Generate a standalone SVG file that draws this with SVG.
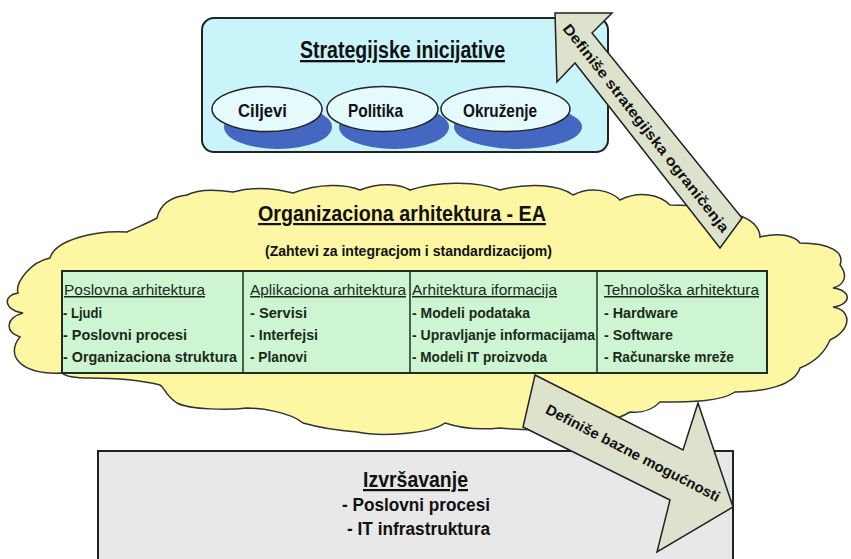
<svg xmlns="http://www.w3.org/2000/svg" width="851" height="559" viewBox="0 0 851 559">
<style>
text{font-family:"Liberation Sans",Arial,sans-serif;fill:#111;}
.b{font-weight:bold;}
.u{text-decoration:underline;}
.hd{font-size:15px;text-decoration:underline;fill:#1a2a1a;}
.it{font-size:15px;font-weight:bold;fill:#1a2a1a;}
.ell{fill:#e4fafc;stroke:#222;stroke-width:1.5;}
.sh{fill:#4468c2;}
.arr{fill:#dde2cc;stroke:#222;stroke-width:1.5;stroke-linejoin:miter;}
.et{font-size:19px;font-weight:bold;}
</style>
<rect width="851" height="559" fill="#fff"/>
<g id="ea-cloud">
<path d="M 50,258 C 55,240 95,230 127,232 C 140,226 150,222 157,218 C 160,205 170,197 187,195 C 200,188 220,190 233,192 C 260,185 280,190 293,193 C 320,183 345,184 360,190 C 380,182 400,184 410,190 C 440,180 480,182 500,190 C 530,182 560,185 573,195 C 590,186 610,190 620,200 C 640,190 660,195 670,205 C 700,205 730,210 743,217 C 755,222 760,230 760,237 C 780,232 795,236 800,243 C 830,243 845,252 840,265 C 848,275 845,285 833,288 C 852,290 852,305 833,307 C 852,310 852,330 830,340 C 825,352 815,362 800,368 C 795,385 765,392 735,392 C 720,402 690,402 660,402 C 650,412 640,413 630,412 C 600,430 540,432 500,428 C 480,430 460,428 445,423 C 430,434 380,437 357,432 C 330,430 310,425 303,423 C 290,412 260,408 247,408 C 230,410 190,410 177,403 C 165,395 165,388 160,385 C 140,380 110,378 90,378 C 75,378 65,376 62,373 C 20,375 5,355 20,337 C 5,332 5,318 23,313 C 3,310 3,295 18,293 C 15,283 30,262 50,258 Z" fill="#fdf6a3" stroke="#333" stroke-width="1.5"/>
<text x="258" y="221" class="b u" font-size="22" textLength="288" lengthAdjust="spacingAndGlyphs">Organizaciona arhitektura - EA</text>
<text x="265" y="256" class="b" font-size="14" textLength="287" lengthAdjust="spacingAndGlyphs">(Zahtevi za integracjom i standardizacijom)</text>
</g>
<g id="ea-table">
<rect x="62" y="271" width="705" height="102" fill="#cdf5d2" stroke="#1f2f1f" stroke-width="2"/>
<line x1="243" y1="271" x2="243" y2="373" stroke="#1f2f1f" stroke-width="1.5"/>
<line x1="410" y1="271" x2="410" y2="373" stroke="#1f2f1f" stroke-width="1.5"/>
<line x1="597" y1="271" x2="597" y2="373" stroke="#1f2f1f" stroke-width="1.5"/>
</g>
<g id="poslovna">
<text x="64" y="295" class="hd" textLength="141" lengthAdjust="spacingAndGlyphs">Poslovna arhitektura</text>
<text x="63" y="318" class="it" textLength="39" lengthAdjust="spacingAndGlyphs">- Ljudi</text>
<text x="63" y="340" class="it" textLength="124" lengthAdjust="spacingAndGlyphs">- Poslovni procesi</text>
<text x="63" y="362" class="it" textLength="174" lengthAdjust="spacingAndGlyphs">- Organizaciona struktura</text>
</g>
<g id="aplikaciona">
<text x="250" y="295" class="hd" textLength="156" lengthAdjust="spacingAndGlyphs">Aplikaciona arhitektura</text>
<text x="250" y="318" class="it" textLength="57" lengthAdjust="spacingAndGlyphs">- Servisi</text>
<text x="250" y="340" class="it" textLength="68" lengthAdjust="spacingAndGlyphs">- Interfejsi</text>
<text x="250" y="362" class="it" textLength="57" lengthAdjust="spacingAndGlyphs">- Planovi</text>
</g>
<g id="informacije">
<text x="412" y="295" class="hd" textLength="145" lengthAdjust="spacingAndGlyphs">Arhitektura iformacija</text>
<text x="412" y="318" class="it" textLength="118" lengthAdjust="spacingAndGlyphs">- Modeli podataka</text>
<text x="412" y="340" class="it" textLength="183" lengthAdjust="spacingAndGlyphs">- Upravljanje informacijama</text>
<text x="412" y="362" class="it" textLength="135" lengthAdjust="spacingAndGlyphs">- Modeli IT proizvoda</text>
</g>
<g id="tehnoloska">
<text x="604" y="295" class="hd" textLength="155" lengthAdjust="spacingAndGlyphs">Tehnološka arhitektura</text>
<text x="604" y="318" class="it" textLength="74" lengthAdjust="spacingAndGlyphs">- Hardware</text>
<text x="604" y="340" class="it" textLength="69" lengthAdjust="spacingAndGlyphs">- Software</text>
<text x="604" y="362" class="it" textLength="130" lengthAdjust="spacingAndGlyphs">- Računarske mreže</text>
</g>
<g id="strategijske">
<rect x="202" y="18" width="406" height="134" rx="12" ry="12" fill="#c9f4fa" stroke="#222" stroke-width="2"/>
<text x="300" y="58" class="b u" font-size="23" textLength="205" lengthAdjust="spacingAndGlyphs">Strategijske inicijative</text>
</g>
<g id="ciljevi">
<ellipse cx="278" cy="127" rx="54" ry="22" class="sh"/>
<ellipse cx="267" cy="109" rx="55" ry="22.5" class="ell"/>
<text x="238" y="117" class="et" textLength="49" lengthAdjust="spacingAndGlyphs">Ciljevi</text>
</g>
<g id="politika">
<ellipse cx="394" cy="127" rx="55" ry="22" class="sh"/>
<ellipse cx="382.5" cy="109" rx="55.5" ry="22.5" class="ell"/>
<text x="348" y="117" class="et" textLength="55" lengthAdjust="spacingAndGlyphs">Politika</text>
</g>
<g id="okruzenje">
<ellipse cx="518" cy="127" rx="64" ry="22" class="sh"/>
<ellipse cx="505.5" cy="109" rx="64.5" ry="22.5" class="ell"/>
<text x="463" y="117" class="et" textLength="74" lengthAdjust="spacingAndGlyphs">Okruženje</text>
</g>
<g id="izvrsavanje">
<rect x="98" y="451" width="635" height="120" fill="#e8e8e8" stroke="#222" stroke-width="2"/>
<text x="363" y="487" class="b u" font-size="22" textLength="105" lengthAdjust="spacingAndGlyphs">Izvršavanje</text>
<text x="342" y="511" class="b" font-size="18" textLength="148" lengthAdjust="spacingAndGlyphs">- Poslovni procesi</text>
<text x="347" y="535" class="b" font-size="18" textLength="143" lengthAdjust="spacingAndGlyphs">- IT infrastruktura</text>
</g>
<g id="connectors">
<g id="arrow-strategijska">
<polygon class="arr" points="555,13 612,13 592,33 742,218 720,248 575,63 557,82"/>
<text x="646" y="133" class="b" font-size="14.5" text-anchor="middle" textLength="260" lengthAdjust="spacingAndGlyphs" transform="rotate(52 646 128)">Definiše strategijska ograničenja</text>
</g>
<g id="arrow-bazne">
<polygon class="arr" points="535,375 683,450 698,403 733,507 657,552 670,500 523,427"/>
<text x="633" y="458" class="b" font-size="14.5" text-anchor="middle" textLength="194" lengthAdjust="spacingAndGlyphs" transform="rotate(27.4 633 453)">Definiše bazne mogućnosti</text>
</g>
</g>
</svg>
